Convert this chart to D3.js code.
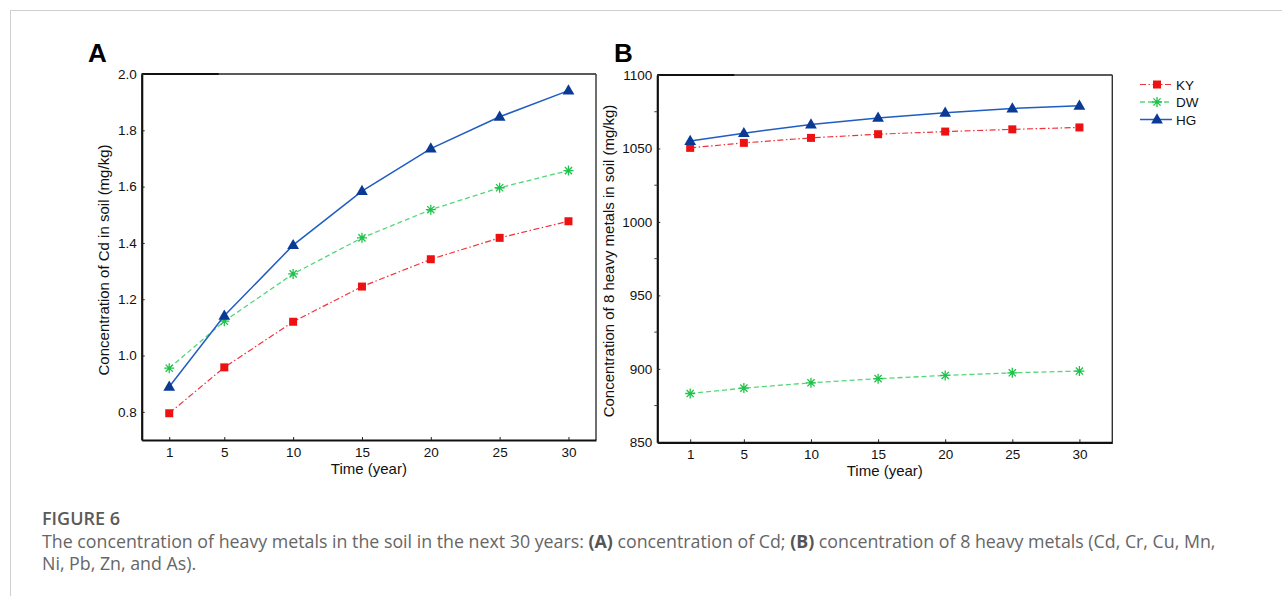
<!DOCTYPE html>
<html lang="en">
<head>
  <meta charset="UTF-8" />
  <title>Figure 6 - heavy metals in soil</title>
  <script src="https://d3js.org/d3.v7.min.js"></script>
  <style>
    body {
      margin: 0;
      background: #fff;
    }

    svg {
      display: block;
      font-family: "Liberation Sans", Arial, sans-serif;
    }

    .tick-label {
      font-size: 13.5px;
      fill: #111;
    }

    .axis-title {
      font-size: 15px;
      fill: #111;
    }

    .caption-head {
      font-family: "Open Sans", sans-serif;
      font-size: 18px;
      font-weight: 600;
      fill: #5a5a5a;
    }

    .caption {
      font-family: "Open Sans", sans-serif;
      font-size: 17.8px;
      fill: #666;
    }
  </style>
</head>

<body>
  <svg width="1282" height="596"></svg>

  <script>
    // data
    const years = [1, 5, 10, 15, 20, 25, 30];
    const seriesNames = ["KY", "DW", "HG"];

    // (A) Cd, mg/kg
    const cdKY = [0.795, 0.958, 1.120, 1.245, 1.342, 1.418, 1.477];
    const cdDW = [0.955, 1.122, 1.290, 1.418, 1.518, 1.596, 1.657];
    const cdHG = [0.889, 1.141, 1.392, 1.584, 1.735, 1.848, 1.941];
    const cdTicks = [0.8, 1.0, 1.2, 1.4, 1.6, 1.8, 2.0];

    // (B) sum of 8 heavy metals, mg/kg
    const totKY = [1050.4, 1053.8, 1057.2, 1059.7, 1061.5, 1063.0, 1064.3];
    const totDW = [883.2, 886.9, 890.5, 893.3, 895.5, 897.3, 898.5];
    const totHG = [1055.0, 1060.4, 1066.3, 1070.8, 1074.3, 1077.2, 1079.0];
    const totTicks = [850, 900, 950, 1000, 1050, 1100];
    const totMinor = [875, 925, 975, 1025, 1075];

    const styles = {
      KY: { line: "#f0323a", mark: "#ee1111", dash: "6,2.5,1.5,2.5", width: 1.2, symbol: "square" },
      DW: { line: "#55d67a", mark: "#1fc24a", dash: "5,3", width: 1.3, symbol: "asterisk" },
      HG: { line: "#1f5cc4", mark: "#0b3a95", dash: null, width: 1.5, symbol: "triangle" }
    };

    const svg = d3.select("svg");

    // outer page frame
    svg.append("path")
      .attr("d", "M10.5,600 V10.5 H1290")
      .attr("fill", "none")
      .attr("stroke", "#cfcfcf")
      .attr("stroke-width", 1);

    function marker(g, type, color) {
      if (type === "square") {
        g.append("path").attr("d", d3.symbol(d3.symbolSquare, 64)()).attr("fill", color);
      } else if (type === "triangle") {
        g.append("path").attr("d", d3.symbol(d3.symbolTriangle, 60)()).attr("fill", color)
          .attr("transform", "translate(0,0.5)");
      } else {
        const r = 5, q = 3.6;
        g.append("path")
          .attr("d", `M0,${-r}V${r}M${-r},0H${r}M${-q},${-q}L${q},${q}M${-q},${q}L${q},${-q}`)
          .attr("stroke", color).attr("stroke-width", 1.3).attr("fill", "none");
      }
    }

    function drawPanel(p) {
      const x = d3.scaleLinear().domain(p.xDomain).range([p.left, p.right]);
      const y = d3.scaleLinear().domain(p.yDomain).range([p.bottom, p.top]);
      const g = svg.append("g");

      // frame: heavy left/bottom, thin top/right
      g.append("line").attr("x1", p.left).attr("x2", p.right).attr("y1", p.top).attr("y2", p.top)
        .attr("stroke", "#222").attr("stroke-width", 1.3);
      g.append("line").attr("x1", p.left).attr("x2", p.left + 77).attr("y1", p.top).attr("y2", p.top)
        .attr("stroke", "#111").attr("stroke-width", 2);
      g.append("line").attr("x1", p.right).attr("x2", p.right).attr("y1", p.top).attr("y2", p.bottom)
        .attr("stroke", "#333").attr("stroke-width", 1.4);

      const xAxis = d3.axisBottom(x).tickValues(years).tickSize(-3).tickPadding(7).tickSizeOuter(0);
      const gx = g.append("g").attr("transform", `translate(0,${p.bottom})`).call(xAxis);
      gx.select(".domain").attr("stroke", "#111").attr("stroke-width", 2.2);
      gx.selectAll(".tick line").attr("stroke", "#222");
      gx.selectAll("text").attr("class", "tick-label").attr("font-family", null).attr("font-size", null);

      const yAxis = d3.axisLeft(y).tickValues(p.yTicks).tickFormat(p.fmt).tickSize(-3).tickPadding(5).tickSizeOuter(0);
      const gy = g.append("g").attr("transform", `translate(${p.left},0)`).call(yAxis);
      gy.select(".domain").attr("stroke", "#111").attr("stroke-width", 2.2);
      gy.selectAll(".tick line").attr("stroke", "#222");
      gy.selectAll("text").attr("class", "tick-label").attr("font-family", null).attr("font-size", null);

      if (p.minor) {
        g.selectAll(".minor").data(p.minor).join("line")
          .attr("x1", p.left - 3).attr("x2", p.left)
          .attr("y1", d => y(d)).attr("y2", d => y(d))
          .attr("stroke", "#444").attr("stroke-width", 1);
      }

      g.append("text").attr("class", "axis-title")
        .attr("x", (p.left + p.right) / 2).attr("y", p.bottom + 34)
        .attr("text-anchor", "middle").text("Time (year)");

      g.append("text").attr("class", "axis-title")
        .attr("transform", `translate(${p.yTitleX},${p.yTitleY}) rotate(-90)`)
        .attr("text-anchor", "middle").text(p.yTitle);

      g.append("text")
        .attr("x", p.letterX).attr("y", 62)
        .attr("font-size", 26).attr("font-weight", "bold").attr("fill", "#000")
        .text(p.letter);

      const line = d3.line().x((d, i) => x(years[i])).y(d => y(d));

      seriesNames.forEach(name => {
        const st = styles[name];
        const vals = p.series[name];
        g.append("path")
          .attr("d", line(vals))
          .attr("fill", "none")
          .attr("stroke", st.line)
          .attr("stroke-width", st.width)
          .attr("stroke-dasharray", st.dash);
        vals.forEach((v, i) => {
          const m = g.append("g").attr("transform", `translate(${x(years[i])},${y(v)})`);
          marker(m, st.symbol, st.mark);
        });
      });
    }

    drawPanel({
      letter: "A", letterX: 88,
      left: 141.7, right: 596, top: 74, bottom: 440,
      xDomain: [-1, 32], yDomain: [0.7, 2.0],
      yTicks: cdTicks, fmt: d3.format(".1f"),
      yTitle: "Concentration of Cd in soil (mg/kg)", yTitleX: 109, yTitleY: 260,
      series: { KY: cdKY, DW: cdDW, HG: cdHG }
    });

    drawPanel({
      letter: "B", letterX: 614,
      left: 657.3, right: 1112.3, top: 75, bottom: 442.3,
      xDomain: [-1.45, 32.45], yDomain: [850, 1100],
      yTicks: totTicks, fmt: d3.format("d"), minor: totMinor,
      yTitle: "Concentration of 8 heavy metals in soil (mg/kg)", yTitleX: 614, yTitleY: 261,
      series: { KY: totKY, DW: totDW, HG: totHG }
    });

    // legend
    const legend = svg.append("g");
    seriesNames.forEach((name, i) => {
      const st = styles[name];
      const ly = 84.5 + i * 17.5;
      legend.append("line")
        .attr("x1", 1140).attr("x2", 1172).attr("y1", ly).attr("y2", ly)
        .attr("stroke", st.line).attr("stroke-width", st.width)
        .attr("stroke-dasharray", st.dash);
      const m = legend.append("g").attr("transform", `translate(1157,${ly})`);
      marker(m, st.symbol, st.mark);
      legend.append("text").attr("class", "tick-label")
        .attr("x", 1176).attr("y", ly + 5).text(name);
    });

    // caption
    svg.append("text").attr("class", "caption-head").attr("x", 42).attr("y", 525).text("FIGURE 6");
    const cap = svg.append("text").attr("class", "caption").attr("x", 42).attr("y", 548);
    cap.append("tspan").text("The concentration of heavy metals in the soil in the next 30 years: ");
    cap.append("tspan").attr("font-weight", 700).attr("fill", "#555").text("(A)");
    cap.append("tspan").text(" concentration of Cd; ");
    cap.append("tspan").attr("font-weight", 700).attr("fill", "#555").text("(B)");
    cap.append("tspan").text(" concentration of 8 heavy metals (Cd, Cr, Cu, Mn,");
    svg.append("text").attr("class", "caption").attr("x", 42).attr("y", 570).text("Ni, Pb, Zn, and As).");
  </script>
</body>
</html>
